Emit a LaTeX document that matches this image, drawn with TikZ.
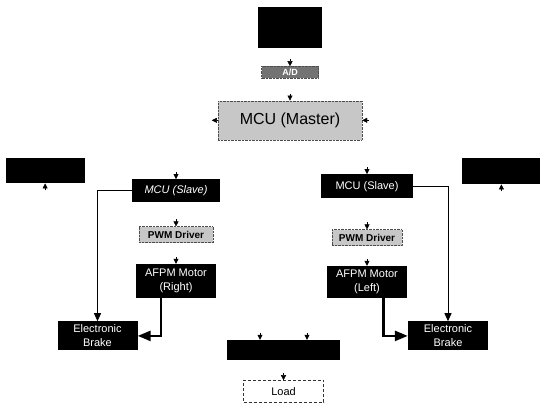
\documentclass[tikz,border=0pt]{standalone}
\usepackage{fontspec}
\setmainfont{Liberation Sans}
\usetikzlibrary{calc,arrows.meta,positioning}
\tikzset{
    negro/.style={rectangle,fill=black,text=white,inner sep=0pt,align=center,
        node font=\fontsize{11}{14}\selectfont},
    gris/.style={rectangle,draw=black!70,densely dotted,fill=black!22,inner sep=0pt,
        node font=\bfseries\fontsize{10}{12}\selectfont},
    blanco/.style={rectangle,draw=black!80,densely dashed,fill=white,inner sep=0pt,
        node font=\fontsize{11}{13}\selectfont},
    senal/.style={draw,-{Triangle[length=5pt,width=5pt]}},
    linea/.style={draw,line width=0.9pt,-{Triangle[length=8pt,width=7pt]}},
    gruesa/.style={draw,line width=2.6pt,-{Triangle[length=13pt,width=10pt]}},
}
\begin{document}
\begin{tikzpicture}
    \useasboundingbox (0,0) rectangle (540pt,-405pt);
    \node [negro,minimum width=64pt,minimum height=41pt] (sensor) at (290pt,-27.5pt) {};
    \node [below=18pt of sensor,rectangle,fill=black!55,draw=black!70,densely dotted,
           minimum width=57pt,minimum height=12pt,inner sep=0pt,text=white,
           node font=\bfseries\fontsize{9}{10}\selectfont] (ad) {A/D};
    \node [below=22pt of ad,gris,minimum width=144pt,minimum height=39pt,
           node font=\fontsize{16}{18}\selectfont] (master) {MCU (Master)};

    % lado izquierdo
    \node [below=39pt of master,xshift=-114pt,negro,minimum width=88pt,minimum height=23pt]
          (slaveL) {\itshape MCU (Slave)};
    \node [below=24pt of slaveL,gris,minimum width=74pt,minimum height=16pt] (pwmL) {PWM Driver};
    \node [below=21pt of pwmL,negro,minimum width=80pt,minimum height=34pt] (motorL) {AFPM Motor\\(Right)};
    \node [below=23pt of motorL,xshift=-78.5pt,negro,minimum width=80pt,minimum height=29pt]
          (brakeL) {Electronic\\Brake};
    \node [left=47pt of slaveL,yshift=20pt,negro,minimum width=79pt,minimum height=25pt] (ladoL) {};

    % lado derecho
    \node [below=34pt of master,xshift=77pt,negro,minimum width=92pt,minimum height=24pt]
          (slaveR) {MCU (Slave)};
    \node [below=31pt of slaveR,gris,minimum width=70pt,minimum height=16pt] (pwmR) {PWM Driver};
    \node [below=20pt of pwmR,negro,minimum width=80pt,minimum height=32pt] (motorR) {AFPM Motor\\(Left)};
    \node [below=23pt of motorR,xshift=81pt,negro,minimum width=80pt,minimum height=29pt]
          (brakeR) {Electronic\\Brake};
    \node [right=49pt of slaveR,yshift=15pt,negro,minimum width=78pt,minimum height=26pt] (ladoR) {};

    % abajo
    \node [negro,minimum width=113pt,minimum height=20pt] (drive) at (283.5pt,-350pt) {};
    \node [below=20pt of drive,blanco,minimum width=80pt,minimum height=22pt] (load) {Load};

    % entradas
    \foreach \n in {ad,master,slaveL,slaveR,pwmL,pwmR,motorL,motorR,load} {
        \coordinate [above=7pt of \n] (in\n);
        \path [senal] (in\n) -- (\n);
    }
    \coordinate [left=6pt of master] (salM);
    \path [senal] (master) -- (salM);
    \coordinate [right=7pt of master] (entM);
    \path [senal] (entM) -- (master);
    \coordinate [below=7pt of ladoL] (inladoL);
    \path [senal] (inladoL) -- (ladoL);
    \coordinate [below=7pt of ladoR] (inladoR);
    \path [senal] (inladoR) -- (ladoR);
    \coordinate (indriveA) at ($(drive.north)+(-23.5pt,7pt)$);
    \path [senal] (indriveA) -- (indriveA |- drive.north);
    \coordinate (indriveB) at ($(drive.north)+(23.5pt,7pt)$);
    \path [senal] (indriveB) -- (indriveB |- drive.north);

    % frenos
    \path [linea] (slaveL) -| (brakeL);
    \path [linea] (slaveR) -| (brakeR);
    \path [gruesa] ($(motorL.south west)+(25pt,0)$) |- (brakeL);
    \path [gruesa] ($(motorR.south east)+(-24pt,0)$) |- (brakeR);
\end{tikzpicture}
\end{document}
